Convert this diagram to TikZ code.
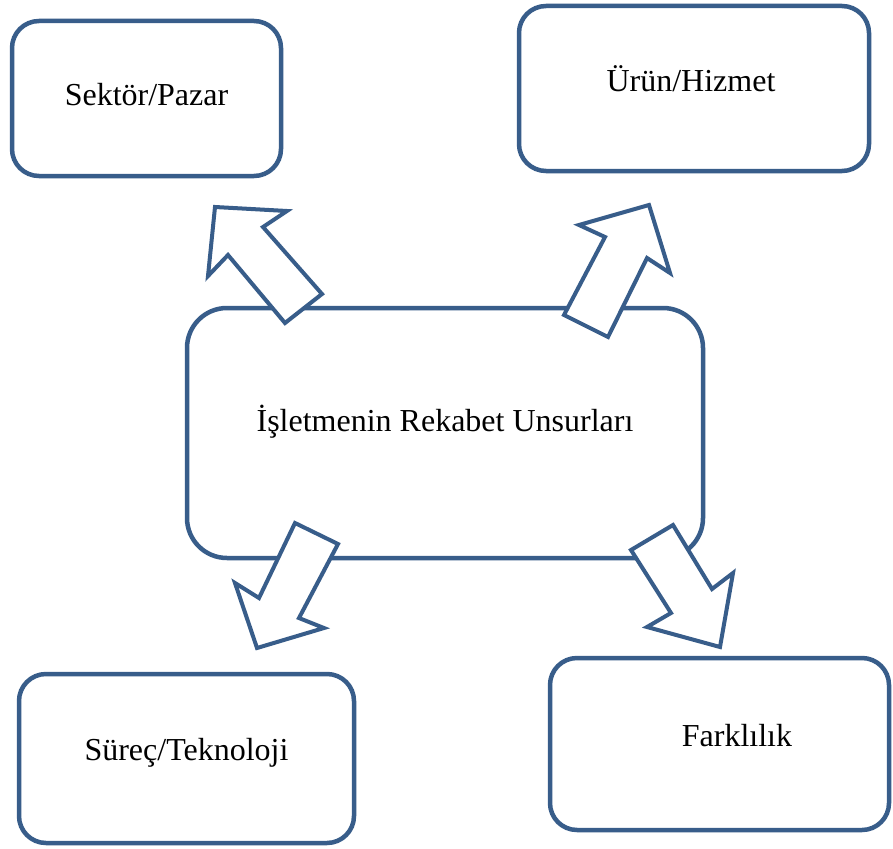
\documentclass[tikz,border=0pt]{standalone}
\usepackage{fontspec}
\setmainfont{Liberation Serif}
\definecolor{outl}{RGB}{56,93,138}
\begin{document}
\begin{tikzpicture}[x=1pt,y=-1pt,
  box/.style={draw=outl, line width=4.5pt, fill=white, rounded corners=27pt,
    font=\fontsize{32}{38}\selectfont, inner sep=0pt, text depth=0pt},
  blockarrow/.style={draw=outl, line width=4pt, fill=white, line join=miter}]
\useasboundingbox (0,0) rectangle (893,848);
\fill[white] (0,0) rectangle (893,848);
\node[box, minimum width=269pt, minimum height=155pt, text height=15pt] (sektor) at (146.5,98.5) {Sektör/Pazar};
\node[box, minimum width=350pt, minimum height=165pt, text height=7pt] (urun) at (694,88.5) {Ürün/Hizmet\hspace*{6pt}};
\node[box, minimum width=516pt, minimum height=250pt, rounded corners=40pt, text height=0pt, text depth=4pt] (center) at (445,433) {İşletmenin Rekabet Unsurları};
\node[box, minimum width=335pt, minimum height=169pt, text height=4pt] (surec) at (186.5,758.5) {Süreç/Teknoloji};
\node[box, minimum width=339pt, minimum height=172pt, text height=4pt] (fark) at (719.5,744) {\hspace*{35pt}Farklılık};
% block arrows from the centre box to the four boxes
\draw[blockarrow] (215,207) -- (287,211) -- (263,227) -- (322,294) -- (285,323) -- (228,255) -- (208,276) -- cycle;
\draw[blockarrow] (649,205) -- (670,273) -- (647,258) -- (608,337) -- (564,315) -- (605,237) -- (579,225) -- cycle;
\draw[blockarrow] (295,523) -- (338,544) -- (299,618) -- (324,628) -- (257,648) -- (235,583) -- (259,598) -- cycle;
\draw[blockarrow] (631,550) -- (673,525) -- (712,589) -- (733,573) -- (720,647) -- (647,627) -- (671,613) -- cycle;
\end{tikzpicture}
\end{document}
